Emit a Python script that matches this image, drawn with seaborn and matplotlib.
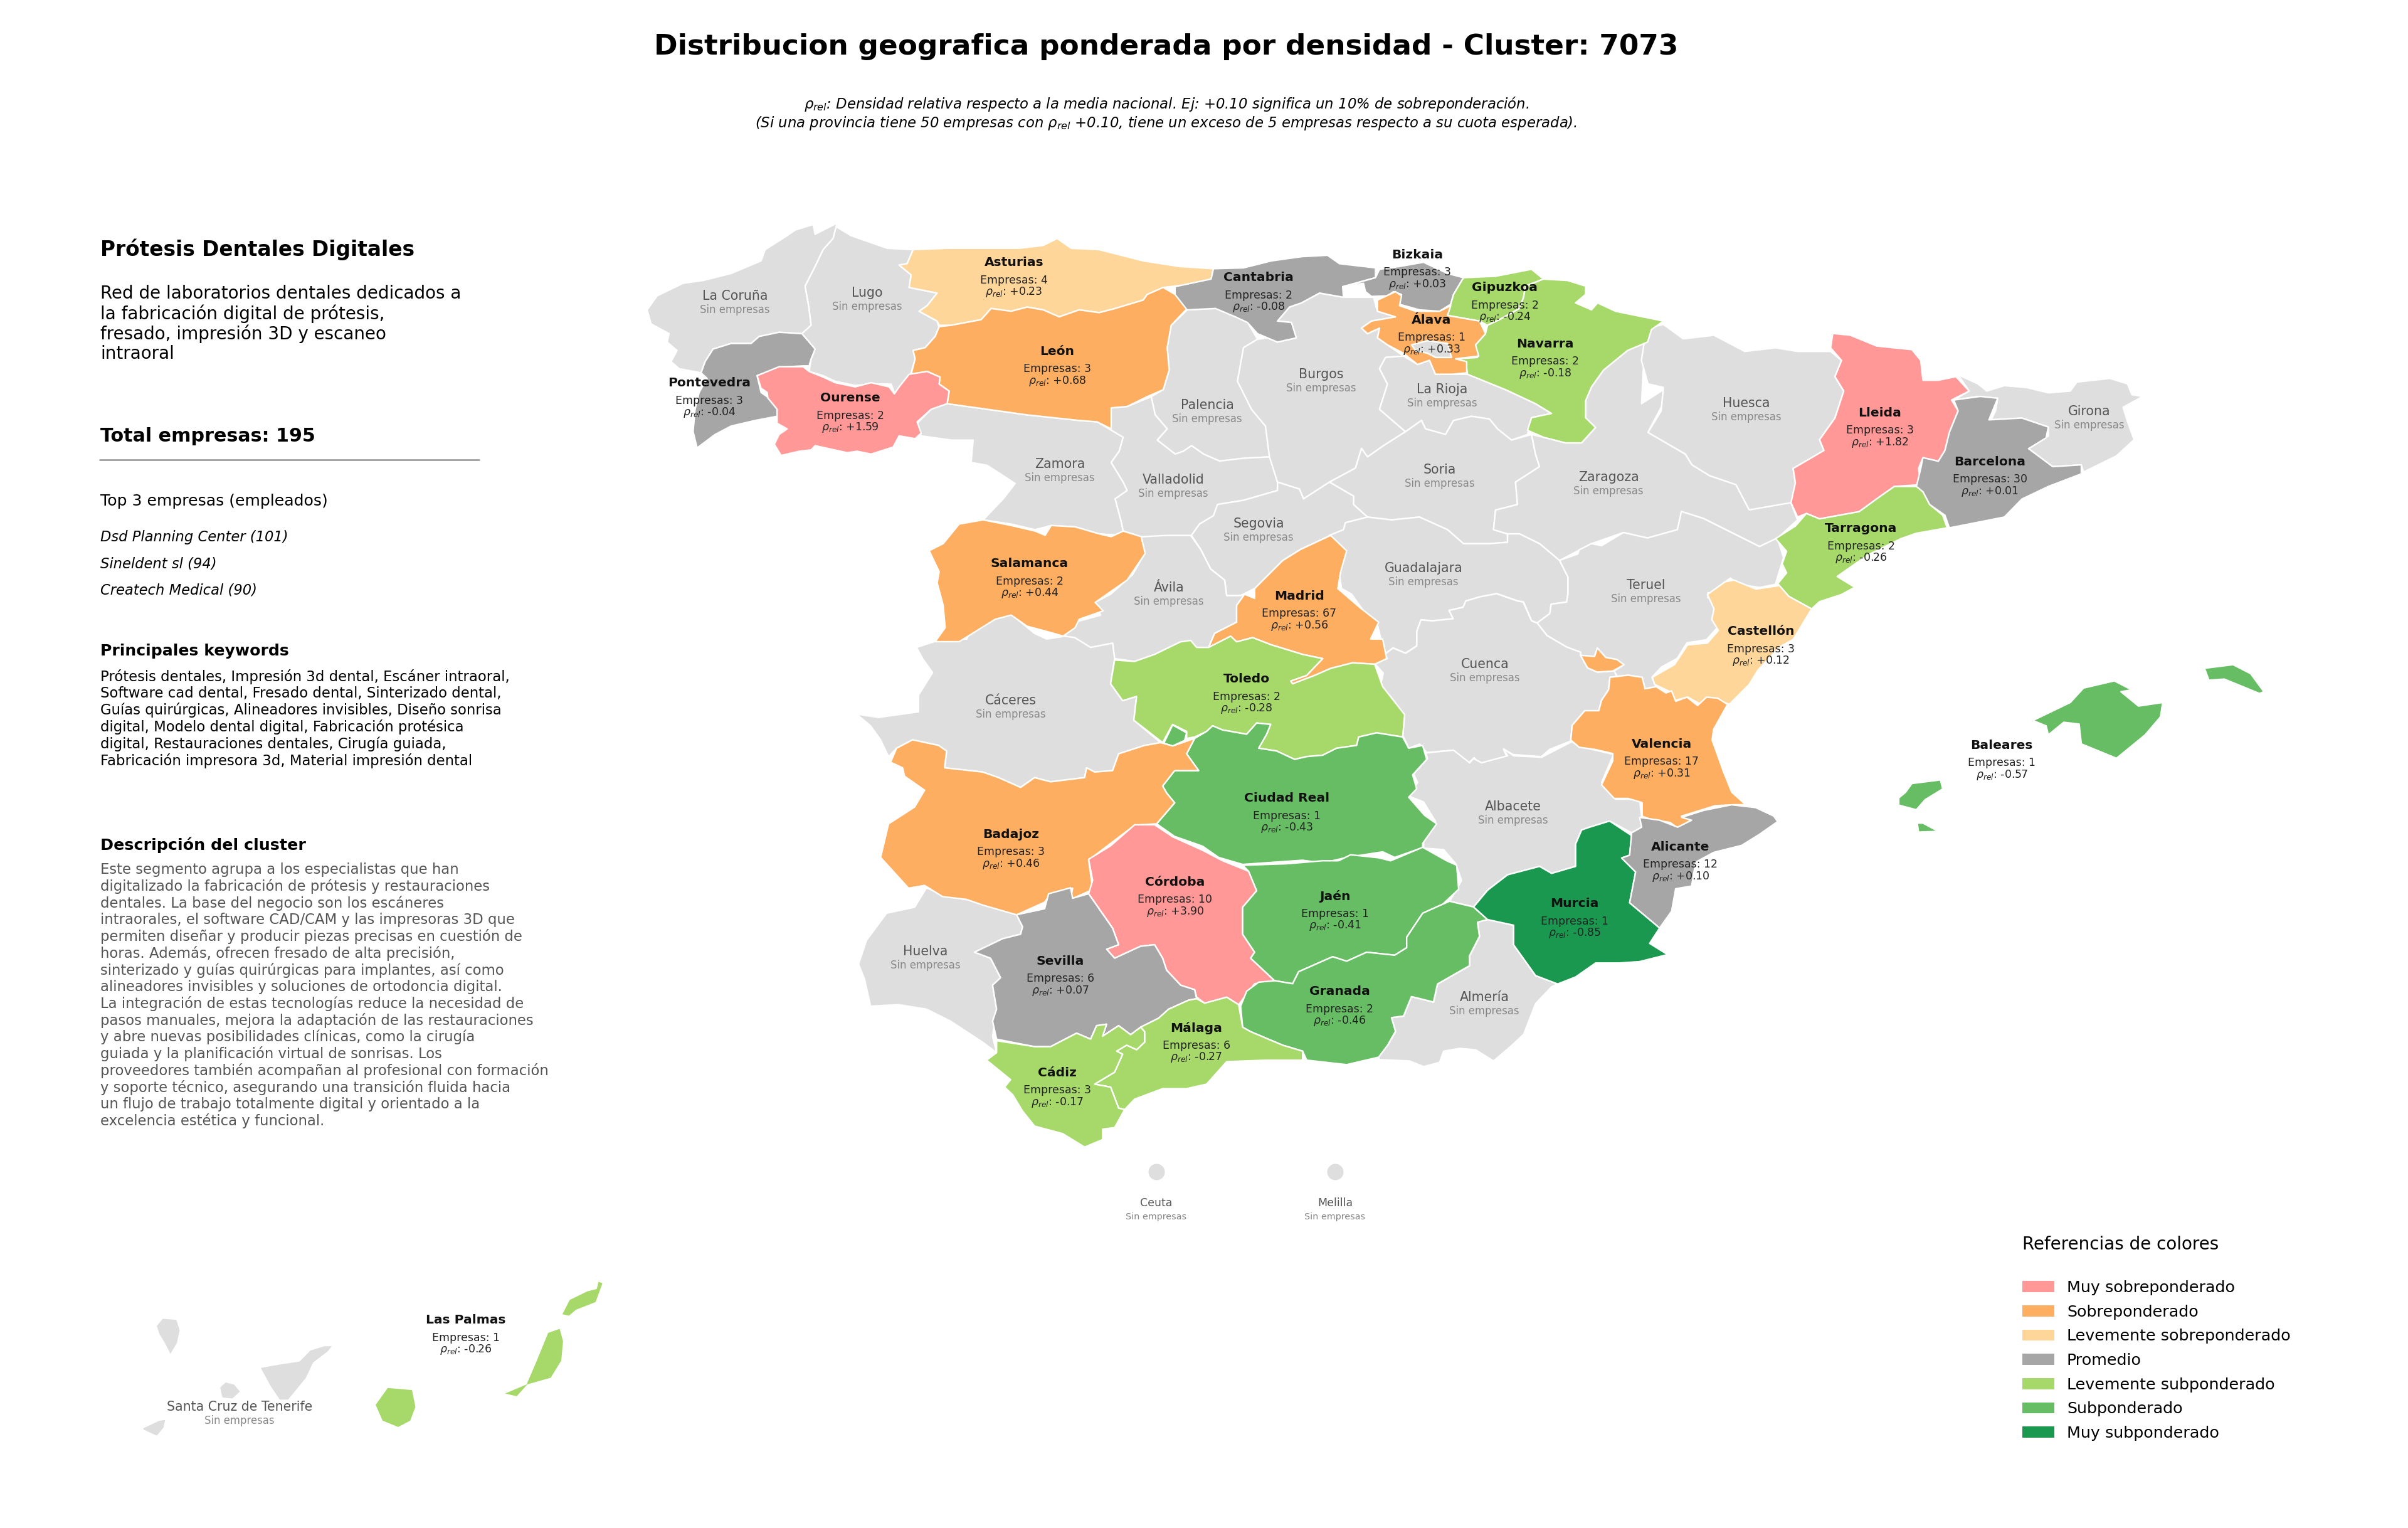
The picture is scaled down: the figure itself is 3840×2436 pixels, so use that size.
import pandas as pd
import matplotlib.pyplot as plt
from matplotlib.patches import Patch
import seaborn as sns

# Provincias con empresas: nombre, empresas, densidad relativa
provincias = ["Asturias", "León", "Pontevedra", "Ourense", "Salamanca", "Cantabria", "Bizkaia", "Gipuzkoa",
              "Álava", "Navarra", "Madrid", "Castellón", "Lleida", "Barcelona", "Tarragona", "Baleares",
              "Toledo", "Valencia", "Ciudad Real", "Badajoz", "Córdoba", "Jaén", "Sevilla", "Granada",
              "Málaga", "Cádiz", "Murcia", "Alicante", "Las Palmas"]
empresas = [4, 3, 3, 2, 2, 2, 3, 2, 1, 2, 67, 3, 3, 30, 2, 1, 2, 17, 1, 3, 10, 1, 6, 2, 6, 3, 1, 12, 1]
rho_rel = [0.23, 0.68, -0.04, 1.59, 0.44, -0.08, 0.03, -0.24, 0.33, -0.18, 0.56, 0.12, 1.82, 0.01, -0.26, -0.57,
           -0.28, 0.31, -0.43, 0.46, 3.90, -0.41, 0.07, -0.46, -0.27, -0.17, -0.85, 0.10, -0.26]

# Posicion de las etiquetas (pixeles de la figura)
etiqueta_xy = {"Asturias": (1617, 419), "León": (1686, 560), "Pontevedra": (1131, 611), "Ourense": (1356, 635),
               "Salamanca": (1642, 899), "Cantabria": (2007, 443), "Bizkaia": (2260, 406), "Gipuzkoa": (2400, 459),
               "Álava": (2283, 510), "Navarra": (2464, 548), "Madrid": (2072, 950), "Castellón": (2808, 1007),
               "Lleida": (2998, 658), "Barcelona": (3173, 736), "Tarragona": (2968, 843), "Baleares": (3192, 1188),
               "Toledo": (1988, 1083), "Valencia": (2650, 1186), "Ciudad Real": (2052, 1273), "Badajoz": (1612, 1330),
               "Córdoba": (1874, 1406), "Jaén": (2129, 1429), "Sevilla": (1691, 1532), "Granada": (2136, 1581),
               "Málaga": (1908, 1639), "Cádiz": (1686, 1710), "Murcia": (2511, 1441), "Alicante": (2680, 1350),
               "Las Palmas": (743, 2105)}
sin_empresas_xy = {"La Coruña": (1172, 472), "Lugo": (1383, 467), "Palencia": (1925, 646), "Zamora": (1690, 740),
                   "Valladolid": (1871, 765), "Ávila": (1864, 937), "Segovia": (2007, 835), "Burgos": (2107, 597),
                   "La Rioja": (2300, 621), "Soria": (2296, 749), "Zaragoza": (2565, 761), "Huesca": (2785, 643),
                   "Guadalajara": (2270, 906), "Teruel": (2625, 933), "Girona": (3332, 656), "Cáceres": (1612, 1117),
                   "Cuenca": (2368, 1059), "Albacete": (2413, 1286), "Huelva": (1476, 1517), "Almería": (2367, 1590),
                   "Santa Cruz de Tenerife": (382, 2243)}
ciudades = ["Ceuta", "Melilla"]
ciudades_x = [1844, 2129]
ciudades_y = [1868, 1868]

# Contornos digitalizados: cada tramo se anota en un marco (origen x, origen y, escala x, escala y)
marcos = {"A": (1000, 340, .638, .4464), "B": (1900, 340, .638, .4464), "C": (2600, 500, .7015, .574),
          "D": (1350, 800, .638, .4464), "E": (1350, 1150, .638, .478), "F": (2200, 1100, .638, .4464),
          "G": (150, 1942, .574, .35), "J": (2150, 850, .4464, .333)}

contornos_grises = {
    "La Coruña": [("A", [(50, 345), (75, 295), (140, 250), (190, 240), (260, 215), (335, 170), (345, 130), (400, 80), (420, 60), (465, 40), (470, 75), (525, 35), (515, 90), (490, 130), (470, 190), (445, 260), (455, 340), (460, 400), (437, 430), (380, 425), (330, 440), (310, 465), (260, 465), (215, 485), (195, 530), (185, 570), (130, 555), (110, 530), (125, 490), (100, 460), (105, 430), (60, 395)])],
    "Lugo": [("A", [(525, 35), (525, 50), (560, 80), (650, 125), (715, 130), (700, 180), (680, 185), (710, 220), (705, 265), (775, 285), (750, 330), (730, 350), (775, 385), (780, 410), (770, 440), (745, 480), (715, 490), (720, 520), (710, 570), (680, 640), (668, 640), (660, 610), (610, 610), (570, 615), (520, 600), (490, 580), (455, 565), (460, 520), (470, 485), (437, 430), (460, 400), (455, 340), (445, 260), (470, 190), (490, 130), (515, 90)])],
    "Zamora": [("A", [(800, 680), (900, 700), (1000, 720), (1130, 740), (1175, 745), (1205, 770), (1240, 800), (1230, 850), (1210, 890), (1240, 960), (1250, 990), (1220, 1020), (1235, 1100), (1240, 1135), (1285, 1155), (1180, 1145), (1120, 1120), (1060, 1115), (1020, 1130), (960, 1110), (890, 1095), (940, 1020), (970, 965), (900, 900), (860, 890), (865, 810), (810, 810), (735, 795), (725, 750), (760, 700)])],
    "Palencia": [("A", [(1400, 345), (1471, 340), (1521, 370), (1551, 390), (1576, 450), (1541, 480), (1526, 600), (1561, 700), (1596, 760), (1606, 870), (1541, 875), (1481, 885), (1441, 860), (1411, 830), (1390, 850), (1370, 860), (1325, 810), (1350, 770), (1320, 720), (1310, 655), (1340, 630), (1355, 560), (1350, 480), (1360, 400)])],
    "Valladolid": [("A", [(1210, 695), (1250, 690), (1310, 655), (1320, 720), (1350, 770), (1325, 810), (1370, 860), (1390, 850), (1411, 830), (1441, 860), (1481, 885), (1541, 875), (1606, 870), (1626, 960), (1626, 990), (1541, 1025), (1476, 1040), (1466, 1080), (1431, 1110), (1411, 1150), (1380, 1165), (1340, 1170), (1285, 1155), (1240, 1135), (1235, 1100), (1220, 1020), (1250, 990), (1240, 960), (1210, 890), (1230, 850), (1240, 800), (1205, 770)])],
    "Burgos": [("B", [(130, 480), (165, 450), (190, 445), (215, 460), (262, 445), (250, 390), (215, 385), (245, 335), (275, 320), (320, 285), (380, 300), (455, 300), (465, 350), (510, 370), (450, 385), (425, 410), (440, 430), (470, 410), (465, 445), (490, 470), (530, 510), (485, 515), (470, 555), (490, 610), (470, 700), (535, 780), (480, 830), (440, 870), (425, 840), (410, 910), (345, 960), (280, 1020), (270, 985), (215, 960), (195, 870), (185, 760), (150, 700), (115, 600)])],
    "La Rioja": [("B", [(485, 515), (530, 510), (565, 540), (595, 525), (610, 575), (650, 575), (690, 575), (785, 630), (860, 680), (900, 715), (850, 730), (840, 790), (800, 810), (765, 770), (745, 735), (700, 725), (655, 740), (635, 790), (585, 770), (575, 740), (535, 780), (470, 700), (490, 610), (470, 555)])],
    "Soria": [("B", [(535, 780), (575, 740), (585, 770), (635, 790), (655, 740), (700, 725), (745, 735), (765, 770), (800, 810), (850, 790), (860, 860), (870, 905), (810, 960), (815, 1040), (760, 1060), (755, 1130), (790, 1145), (790, 1175), (745, 1180), (680, 1180), (640, 1130), (570, 1085), (500, 1095), (440, 1085), (405, 1040), (405, 1010), (345, 960), (410, 910), (425, 840), (440, 870), (480, 830)])],
    "Zaragoza": [("B", [(850, 790), (880, 800), (935, 820), (975, 820), (1010, 765), (985, 730), (985, 670), (1000, 620), (1030, 560), (1090, 490), (1140, 460), (1130, 540), (1125, 680), (1180, 630), (1175, 690), (1141, 782), (1234, 860), (1251, 898), (1295, 937), (1361, 969), (1394, 1059), (1498, 1033), (1515, 1095), (1465, 1160), (1420, 1190), (1350, 1140), (1280, 1090), (1225, 1065), (1215, 1130), (1140, 1160), (1080, 1140), (1000, 1180), (920, 1240), (870, 1180), (820, 1145), (790, 1145), (755, 1130), (760, 1060), (815, 1040), (810, 960), (870, 905), (860, 860)])],
    "Huesca": [("C", [(40, 40), (75, 30), (120, 70), (190, 60), (260, 105), (330, 95), (380, 105), (455, 105), (480, 130), (465, 175), (485, 215), (465, 290), (430, 350), (440, 380), (370, 430), (375, 470), (395, 490), (365, 525), (270, 545), (240, 475), (180, 450), (140, 420), (125, 390), (40, 330), (70, 270), (75, 205), (40, 195), (25, 130), (30, 90)])],
    "Segovia": [("B", [(440, 1085), (405, 1040), (405, 1010), (345, 960), (280, 1020), (270, 985), (215, 960), (215, 990), (130, 1025), (65, 1040), (55, 1080), (20, 1110), (0, 1150), (23, 1200), (48, 1270), (83, 1310), (88, 1365), (123, 1365), (158, 1340), (228, 1240), (273, 1200), (348, 1150), (380, 1130), (385, 1105)])],
    "Guadalajara": [("B", [(440, 1085), (500, 1095), (570, 1085), (640, 1130), (680, 1180), (745, 1180), (790, 1175), (790, 1145), (820, 1145), (870, 1180), (920, 1240), (941, 1299), (941, 1358), (938, 1388), (899, 1396), (896, 1429), (864, 1463), (850, 1455), (830, 1388), (815, 1384), (763, 1358), (721, 1370), (686, 1384), (679, 1407), (644, 1418), (654, 1448), (602, 1455), (574, 1452), (563, 1493), (563, 1545), (535, 1571), (504, 1552), (483, 1575), (465, 1470), (440, 1440), (400, 1360), (375, 1340), (370, 1290), (385, 1210), (345, 1150), (380, 1130), (385, 1105)])],
    "Teruel": [("J", [(755, 130), (820, 100), (825, 80), (869, 50), (905, 60), (983, -3), (1069, 23), (1176, -17), (1190, -104), (1269, -70), (1369, -3), (1469, 64), (1533, 23), (1555, 117), (1526, 245), (1470, 260), (1395, 245), (1365, 215), (1345, 235), (1320, 290), (1285, 285), (1285, 310), (1320, 310), (1325, 375), (1300, 410), (1320, 450), (1280, 510), (1210, 525), (1175, 600), (1120, 640), (1085, 690), (1100, 735), (1060, 745), (1050, 690), (1000, 680), (960, 685), (950, 660), (985, 630), (960, 605), (920, 595), (890, 550), (880, 590), (830, 585), (830, 570), (780, 545), (710, 490), (675, 430), (720, 385), (725, 340), (780, 330), (785, 290), (785, 210)])],
    "Cuenca": [("J", [(675, 430), (655, 420), (625, 330), (605, 325), (530, 290), (470, 305), (420, 325), (410, 355), (360, 370), (375, 410), (300, 420), (260, 415), (245, 470), (245, 540), (205, 575), (160, 550), (130, 580), (140, 600), (95, 625), (125, 670), (115, 730), (150, 780), (200, 870), (195, 970), (210, 1010), (215, 1030), (255, 1010), (280, 1050), (370, 1040), (430, 1100), (450, 1075), (470, 1105), (570, 1080), (555, 1035), (590, 1060), (690, 1070), (720, 1035), (795, 995), (800, 920), (845, 850), (895, 850), (905, 800), (930, 750), (935, 690), (960, 685), (950, 660), (890, 665), (855, 645), (830, 585), (830, 570), (780, 545), (710, 490)])],
    "Ávila": [("D", [(735, 125), (800, 120), (860, 120), (885, 170), (910, 240), (945, 280), (950, 335), (985, 335), (995, 330), (975, 370), (975, 430), (920, 470), (905, 520), (860, 520), (835, 500), (770, 545), (720, 570), (670, 560), (665, 505), (610, 520), (570, 485), (545, 480), (570, 430), (635, 405), (620, 360), (660, 330), (715, 260), (745, 185)])],
    "Cáceres": [("D", [(175, 520), (240, 490), (300, 490), (310, 465), (370, 420), (410, 400), (470, 470), (500, 490), (545, 480), (570, 485), (610, 520), (665, 505), (670, 560), (660, 650), (690, 710), (725, 695), (718, 780), (785, 860), (745, 870), (680, 900), (665, 960), (620, 965), (600, 950), (595, 985), (510, 1000), (470, 985), (435, 1020), (380, 985), (340, 965), (245, 950), (250, 890), (230, 870), (165, 850), (125, 880), (105, 910), (85, 850), (60, 800), (25, 758), (80, 770), (180, 750), (180, 690), (215, 610), (190, 560)])],
    "Huelva": [("E", [(200, 555), (240, 580), (340, 605), (425, 645), (440, 685), (435, 710), (390, 725), (320, 770), (360, 790), (385, 855), (365, 880), (375, 960), (365, 1050), (375, 1105), (340, 1070), (260, 1000), (200, 960), (130, 945), (60, 950), (45, 860), (30, 810), (50, 730), (100, 640), (170, 620)])],
    "Albacete": [("F", [(115, 225), (185, 215), (225, 260), (235, 245), (255, 260), (320, 235), (310, 210), (335, 235), (405, 240), (480, 185), (510, 205), (585, 230), (555, 330), (590, 390), (650, 390), (655, 455), (655, 490), (630, 510), (575, 468), (525, 490), (505, 500), (490, 550), (490, 630), (430, 655), (400, 630), (320, 660), (270, 715), (235, 775), (175, 755), (205, 680), (190, 620), (160, 570), (110, 565), (110, 520), (140, 470), (110, 400), (75, 380), (95, 330), (85, 300), (120, 245)])],
    "Almería": [("F", [(250, 825), (270, 820), (335, 840), (335, 910), (390, 1020), (445, 1050), (430, 1060), (390, 1120), (360, 1230), (330, 1270), (285, 1325), (240, 1285), (200, 1280), (160, 1290), (150, 1330), (110, 1345), (75, 1325), (0, 1320), (-10, 1300), (20, 1270), (40, 1220), (30, 1170), (60, 1165), (80, 1095), (135, 1115), (145, 1050), (225, 985), (225, 950), (250, 880), (245, 830)])],
    "Girona": [("C", [(745, 170), (790, 195), (810, 215), (850, 200), (900, 205), (950, 220), (1000, 215), (1015, 190), (1090, 180), (1130, 195), (1140, 225), (1165, 230), (1120, 260), (1130, 300), (1145, 350), (1105, 395), (1030, 440), (1025, 420), (960, 425), (905, 375), (950, 340), (950, 315), (890, 290), (820, 295), (830, 270), (835, 235), (790, 230), (735, 240), (770, 215)])],
    "Santa Cruz de Tenerife": [
        ("G", [(135, 955), (180, 920), (200, 915), (195, 955), (175, 995), (135, 965)]),
        ("G", [(172, 490), (190, 455), (230, 460), (240, 510), (232, 570), (212, 625), (195, 570), (180, 530)]),
        ("G", [(348, 770), (365, 745), (390, 755), (408, 790), (385, 825), (355, 820)]),
        ("G", [(460, 680), (510, 665), (570, 650), (600, 600), (640, 580), (665, 580), (650, 610), (610, 660), (590, 730), (540, 830), (515, 830), (490, 770)])],
}

contornos = {
    "Asturias": [("A", [(715, 130), (800, 125), (880, 125), (980, 125), (1040, 115), (1075, 90), (1110, 125), (1180, 130), (1290, 170), (1380, 190), (1465, 198), (1460, 235), (1400, 255), (1370, 260), (1340, 265), (1300, 290), (1290, 310), (1220, 340), (1180, 355), (1130, 345), (1080, 370), (1040, 345), (1000, 335), (960, 350), (910, 340), (885, 380), (810, 400), (780, 400), (775, 385), (730, 350), (750, 330), (775, 285), (705, 265), (710, 220), (680, 185), (700, 180)])],
    "León": [("A", [(780, 405), (810, 400), (885, 380), (910, 340), (960, 350), (1000, 335), (1040, 345), (1080, 370), (1130, 345), (1180, 355), (1220, 340), (1290, 310), (1300, 290), (1340, 265), (1370, 290), (1400, 340), (1360, 400), (1350, 480), (1355, 560), (1340, 630), (1300, 655), (1250, 690), (1210, 695), (1210, 770), (1175, 745), (1130, 740), (1000, 720), (900, 700), (800, 680), (805, 635), (780, 610), (782, 585), (750, 565), (710, 575), (720, 520), (715, 490), (745, 480), (770, 440)])],
    "Pontevedra": [("A", [(437, 430), (470, 485), (460, 520), (455, 545), (440, 545), (380, 550), (325, 580), (335, 640), (355, 660), (380, 695), (375, 725), (320, 740), (260, 760), (220, 790), (175, 838), (165, 780), (170, 700), (180, 640), (200, 590), (185, 570), (195, 530), (215, 485), (260, 465), (310, 465), (330, 440), (380, 425)])],
    "Ourense": [("A", [(325, 580), (380, 548), (440, 548), (455, 565), (490, 585), (520, 605), (570, 620), (610, 605), (655, 620), (668, 645), (680, 620), (705, 575), (750, 565), (782, 585), (780, 610), (805, 635), (800, 680), (760, 700), (725, 745), (735, 785), (720, 805), (680, 795), (665, 835), (610, 860), (575, 850), (550, 855), (470, 830), (460, 845), (430, 850), (385, 865), (368, 825), (380, 790), (400, 770), (375, 750), (375, 700), (352, 660), (350, 640), (335, 625)])],
    "Salamanca": [("A", [(755, 1205), (790, 1180), (830, 1110), (890, 1095), (960, 1115), (1020, 1135), (1045, 1150), (1060, 1115), (1120, 1120), (1180, 1145), (1210, 1155), (1240, 1135), (1285, 1155), (1295, 1215), (1250, 1310), (1170, 1390), (1190, 1420), (1130, 1450), (1120, 1480), (1090, 1510), (1040, 1490), (1000, 1475), (960, 1435), (920, 1450), (830, 1530), (770, 1530), (795, 1480), (790, 1400), (775, 1320), (780, 1280)])],
    "Cantabria": [("B", [(55, 198), (130, 195), (200, 170), (275, 155), (340, 150), (370, 180), (460, 195), (460, 230), (378, 262), (380, 300), (320, 285), (275, 320), (245, 335), (215, 385), (250, 390), (262, 445), (215, 460), (190, 445), (165, 430), (140, 390), (110, 370), (60, 340), (-11, 345), (-41, 290), (-41, 262), (49, 235)])],
    "Bizkaia": [("B", [(460, 230), (470, 200), (520, 190), (580, 175), (640, 215), (680, 230), (655, 290), (648, 325), (620, 350), (570, 345), (520, 325), (525, 290), (505, 280), (490, 295), (450, 297), (435, 280), (430, 250), (380, 262)])],
    "Gipuzkoa": [("B", [(680, 230), (760, 225), (850, 200), (880, 235), (835, 260), (830, 300), (820, 340), (770, 380), (740, 400), (720, 385), (640, 365), (648, 325), (655, 290)])],
    "Navarra": [("B", [(880, 235), (940, 240), (985, 260), (985, 290), (960, 320), (1000, 345), (1015, 320), (1060, 350), (1180, 385), (1150, 415), (1140, 460), (1090, 490), (1030, 560), (1000, 620), (985, 670), (985, 730), (1010, 765), (975, 820), (935, 820), (880, 800), (840, 775), (850, 730), (900, 715), (860, 680), (785, 630), (690, 575), (685, 530), (660, 520), (715, 515), (710, 470), (735, 430), (740, 400), (770, 380), (820, 340), (830, 300), (835, 260)])],
    "Álava": [("B", [(465, 310), (510, 280), (525, 295), (520, 330), (560, 350), (620, 350), (648, 330), (640, 365), (720, 385), (735, 430), (710, 470), (718, 510), (660, 520), (688, 530), (688, 570), (650, 575), (610, 575), (595, 525), (565, 540), (530, 500), (490, 470), (465, 445), (470, 410), (440, 430), (425, 410), (450, 385), (510, 370), (465, 350)])],
    "Madrid": [("D", [(1210, 120), (1250, 175), (1235, 250), (1228, 310), (1285, 380), (1330, 430), (1310, 490), (1340, 490), (1350, 560), (1320, 580), (1265, 575), (1210, 595), (1170, 620), (1115, 650), (1110, 640), (1150, 620), (1190, 560), (1140, 545), (1060, 510), (1015, 485), (975, 500), (960, 480), (905, 520), (920, 470), (975, 430), (975, 370), (995, 330), (1020, 345), (1020, 310), (1090, 210), (1135, 170)])],
    "Castellón": [("C", [(175, 780), (215, 745), (235, 740), (285, 765), (340, 755), (360, 785), (412, 820), (370, 905), (340, 925), (290, 990), (270, 1030), (225, 1085), (190, 1070), (160, 1085), (130, 1065), (100, 1075), (90, 1050), (55, 1030), (50, 1010), (100, 975), (130, 920), (175, 915), (200, 880), (185, 850), (190, 820)])],
    "Lleida": [("C", [(460, 55), (500, 60), (560, 90), (640, 100), (660, 130), (665, 185), (700, 185), (740, 175), (770, 215), (730, 240), (745, 270), (725, 330), (715, 380), (700, 410), (665, 400), (655, 430), (660, 475), (600, 480), (565, 510), (520, 550), (430, 570), (400, 555), (380, 565), (365, 525), (375, 470), (370, 430), (440, 380), (430, 350), (465, 290), (485, 215), (465, 175), (480, 130), (455, 95)])],
    "Barcelona": [("C", [(735, 240), (795, 230), (835, 235), (825, 265), (815, 295), (890, 290), (950, 315), (945, 345), (905, 375), (960, 425), (1025, 420), (1025, 445), (950, 480), (890, 515), (850, 565), (725, 595), (715, 560), (680, 530), (665, 495), (650, 480), (660, 430), (665, 400), (700, 410), (715, 380), (725, 330), (745, 270)])],
    "Tarragona": [("C", [(330, 625), (375, 590), (400, 555), (430, 570), (520, 550), (565, 510), (600, 480), (650, 480), (665, 495), (680, 530), (710, 560), (720, 595), (650, 610), (615, 625), (540, 670), (470, 730), (510, 760), (480, 780), (430, 800), (412, 820), (360, 785), (335, 750), (355, 720), (345, 695), (355, 660)])],
    "Baleares": [
        ("C", [(915, 1130), (1000, 1080), (1030, 1040), (1100, 1020), (1140, 1045), (1115, 1050), (1155, 1090), (1210, 1080), (1205, 1120), (1170, 1170), (1105, 1235), (1025, 1195), (1020, 1140), (985, 1135), (950, 1170), (945, 1145)]),
        ("C", [(1305, 985), (1370, 975), (1410, 1000), (1440, 1050), (1430, 1055), (1350, 1015), (1315, 1018)]),
        ("C", [(610, 1345), (625, 1330), (640, 1305), (705, 1295), (710, 1320), (670, 1350), (650, 1378), (610, 1365)]),
        ("C", [(652, 1415), (665, 1415), (700, 1438), (655, 1440)])],
    "Toledo": [("D", [(670, 565), (720, 570), (770, 545), (835, 500), (860, 495), (875, 520), (905, 520), (960, 480), (975, 500), (1015, 485), (1060, 510), (1140, 545), (1190, 560), (1150, 620), (1110, 640), (1115, 650), (1170, 620), (1210, 595), (1265, 575), (1320, 580), (1340, 660), (1395, 760), (1390, 840), (1325, 825), (1280, 840), (1275, 870), (1225, 880), (1190, 905), (1150, 910), (1120, 920), (1075, 890), (1030, 880), (1050, 830), (1060, 795), (1025, 790), (1000, 830), (940, 815), (915, 800), (900, 820), (870, 840), (850, 845), (850, 820), (815, 795), (790, 860), (718, 780), (725, 695), (690, 710), (660, 650)])],
    "Valencia": [
        ("J", [(935, 690), (1000, 680), (1050, 690), (1060, 745), (1100, 735), (1135, 765), (1155, 755), (1170, 805), (1210, 785), (1248, 825), (1280, 785), (1320, 790), (1355, 820), (1305, 940), (1300, 990), (1340, 1140), (1370, 1240), (1420, 1300), (1380, 1300), (1310, 1305), (1190, 1355), (1225, 1375), (1175, 1410), (1150, 1385), (1080, 1370), (1050, 1355), (1050, 1290), (1000, 1270), (950, 1270), (905, 1205), (945, 1090), (945, 1055), (880, 1035), (825, 1025), (795, 990), (800, 920), (845, 850), (895, 850), (905, 800), (930, 750)]),
        ("J", [(830, 585), (880, 590), (890, 550), (920, 595), (960, 605), (985, 630), (945, 660), (890, 665), (855, 645)])],
    "Ciudad Real": [
        ("D", [(870, 845), (900, 820), (915, 800), (940, 815), (1000, 830), (1025, 790), (1060, 795), (1050, 830), (1030, 880), (1075, 890), (1120, 920), (1150, 910), (1190, 905), (1225, 880), (1275, 870), (1280, 840), (1325, 825), (1390, 840), (1405, 880), (1440, 870), (1450, 920), (1415, 975), (1425, 1025), (1405, 1055), (1445, 1120), (1475, 1150), (1440, 1220), (1440, 1235), (1370, 1270), (1340, 1250), (1250, 1270), (1190, 1290), (1140, 1280), (990, 1295), (930, 1270), (890, 1230), (820, 1195), (775, 1150), (820, 1075), (800, 1040), (790, 1015), (820, 960), (880, 960), (850, 900)]),
        ("D", [(793, 862), (815, 797), (850, 825), (845, 852), (815, 872)])],
    "Badajoz": [("D", [(110, 930), (125, 880), (165, 850), (230, 870), (250, 890), (245, 950), (340, 965), (380, 985), (435, 1020), (470, 985), (510, 1000), (595, 985), (600, 950), (620, 965), (665, 960), (680, 900), (745, 870), (785, 860), (815, 872), (870, 845), (850, 900), (880, 960), (820, 960), (790, 1015), (800, 1040), (820, 1075), (775, 1150), (720, 1155), (660, 1220), (605, 1280), (610, 1330), (615, 1385), (560, 1420), (565, 1380), (510, 1400), (495, 1430), (425, 1475), (340, 1440), (300, 1420), (240, 1410), (195, 1370), (155, 1380), (85, 1270), (105, 1150), (170, 1090), (195, 1030), (145, 980), (140, 950)])],
    "Córdoba": [("E", [(720, 345), (770, 345), (815, 385), (890, 430), (940, 465), (1005, 500), (1025, 565), (990, 620), (990, 710), (1020, 770), (1010, 790), (1070, 865), (1020, 875), (980, 945), (950, 920), (895, 940), (875, 920), (870, 895), (835, 880), (800, 830), (790, 790), (770, 745), (735, 750), (670, 790), (650, 760), (680, 745), (665, 690), (605, 575), (615, 530), (605, 460), (660, 415)])],
    "Jaén": [("E", [(990, 480), (1100, 475), (1190, 465), (1230, 465), (1260, 445), (1330, 455), (1360, 465), (1440, 420), (1500, 465), (1525, 480), (1530, 560), (1490, 610), (1440, 640), (1400, 720), (1400, 755), (1370, 780), (1300, 770), (1250, 800), (1215, 785), (1130, 835), (1115, 875), (1070, 865), (1010, 790), (1020, 770), (990, 710), (990, 620), (1025, 565), (1005, 500)])],
    "Sevilla": [("E", [(425, 645), (495, 625), (505, 575), (560, 555), (565, 590), (605, 575), (665, 690), (680, 745), (650, 760), (670, 790), (735, 750), (770, 745), (790, 790), (800, 830), (835, 880), (870, 895), (875, 925), (855, 930), (805, 960), (780, 990), (735, 1020), (710, 1045), (680, 1015), (640, 1050), (650, 1010), (625, 1015), (610, 1060), (575, 1040), (510, 1085), (470, 1085), (375, 1060), (365, 1000), (375, 960), (365, 880), (385, 855), (360, 790), (320, 770), (390, 725), (435, 710), (440, 685)])],
    "Granada": [("E", [(1070, 865), (1115, 875), (1130, 835), (1215, 785), (1250, 800), (1300, 770), (1370, 780), (1400, 755), (1400, 720), (1440, 640), (1490, 610), (1507, 600), (1567, 619), (1602, 661), (1577, 670), (1582, 717), (1557, 782), (1557, 815), (1477, 876), (1467, 936), (1412, 918), (1392, 983), (1362, 988), (1372, 1034), (1352, 1081), (1330, 1120), (1250, 1145), (1150, 1130), (1140, 1100), (1090, 1080), (1010, 1035), (990, 1020), (985, 950), (1000, 900), (1030, 870)])],
    "Málaga": [("E", [(855, 930), (875, 925), (895, 940), (950, 920), (980, 945), (990, 1020), (1010, 1035), (1090, 1080), (1140, 1100), (1140, 1130), (1050, 1130), (950, 1135), (900, 1210), (850, 1225), (790, 1225), (720, 1260), (695, 1295), (680, 1290), (660, 1220), (620, 1210), (670, 1170), (690, 1110), (675, 1100), (700, 1080), (725, 1095), (745, 1070), (745, 1035), (735, 1020), (780, 990), (805, 960)])],
    "Cádiz": [("E", [(375, 1065), (470, 1085), (510, 1085), (575, 1040), (610, 1060), (625, 1015), (650, 1010), (640, 1050), (680, 1015), (710, 1045), (735, 1020), (745, 1035), (745, 1070), (725, 1095), (700, 1080), (675, 1100), (690, 1110), (670, 1170), (620, 1210), (660, 1220), (680, 1290), (695, 1295), (670, 1355), (640, 1360), (640, 1395), (595, 1420), (540, 1375), (470, 1350), (440, 1300), (415, 1245), (395, 1220), (410, 1195), (350, 1130), (375, 1105)])],
    "Murcia": [("F", [(235, 775), (270, 715), (320, 660), (400, 630), (430, 655), (490, 630), (490, 550), (505, 500), (525, 490), (575, 468), (630, 520), (625, 590), (605, 600), (640, 650), (625, 760), (700, 850), (675, 905), (720, 945), (650, 970), (600, 975), (540, 975), (490, 1025), (445, 1050), (390, 1020), (335, 910), (335, 840), (270, 820)])],
    "Alicante": [("F", [(650, 455), (700, 465), (745, 490), (780, 465), (755, 455), (810, 430), (880, 410), (940, 420), (985, 450), (995, 470), (950, 515), (905, 555), (835, 580), (790, 615), (780, 700), (740, 710), (730, 790), (700, 850), (625, 760), (640, 650), (605, 600), (625, 590), (630, 510), (655, 490)])],
    "Las Palmas": [
        ("G", [(780, 850), (815, 770), (885, 780), (895, 860), (880, 925), (845, 955), (800, 925)]),
        ("G", [(1135, 800), (1200, 755), (1225, 660), (1260, 520), (1295, 500), (1305, 560), (1300, 650), (1270, 730), (1205, 760), (1175, 815)]),
        ("G", [(1298, 440), (1320, 370), (1370, 330), (1395, 320), (1400, 285), (1415, 295), (1405, 340), (1395, 385), (1340, 420), (1320, 448)]),
        ("G", [(1390, 275), (1395, 258), (1400, 265)])],
}
# Condado de Trevino (Burgos) dentro de Alava
trevino = ("B", [(550, 470), (590, 455), (640, 465), (650, 515), (610, 515), (590, 500), (560, 490)])

# Categorias y colores
categorias = ["Muy sobreponderado", "Sobreponderado", "Levemente sobreponderado", "Promedio",
              "Levemente subponderado", "Subponderado", "Muy subponderado"]
colores = sns.color_palette(["#FF9896", "#FDAE61", "#FED69A", "#A6A6A6", "#A6D96A", "#66BD63", "#1A9850"])
color_sin_datos = "#DEDEDE"

# Textos del panel izquierdo
titulo_cluster = "Prótesis Dentales Digitales"
resumen = "Red de laboratorios dentales dedicados a\nla fabricación digital de prótesis,\nfresado, impresión 3D y escaneo\nintraoral"
top_empresas = ["Dsd Planning Center (101)", "Sineldent sl (94)", "Createch Medical (90)"]
keywords = ("Prótesis dentales, Impresión 3d dental, Escáner intraoral,\n"
            "Software cad dental, Fresado dental, Sinterizado dental,\n"
            "Guías quirúrgicas, Alineadores invisibles, Diseño sonrisa\n"
            "digital, Modelo dental digital, Fabricación protésica\n"
            "digital, Restauraciones dentales, Cirugía guiada,\n"
            "Fabricación impresora 3d, Material impresión dental")
descripcion = ("Este segmento agrupa a los especialistas que han\n"
               "digitalizado la fabricación de prótesis y restauraciones\n"
               "dentales. La base del negocio son los escáneres\n"
               "intraorales, el software CAD/CAM y las impresoras 3D que\n"
               "permiten diseñar y producir piezas precisas en cuestión de\n"
               "horas. Además, ofrecen fresado de alta precisión,\n"
               "sinterizado y guías quirúrgicas para implantes, así como\n"
               "alineadores invisibles y soluciones de ortodoncia digital.\n"
               "La integración de estas tecnologías reduce la necesidad de\n"
               "pasos manuales, mejora la adaptación de las restauraciones\n"
               "y abre nuevas posibilidades clínicas, como la cirugía\n"
               "guiada y la planificación virtual de sonrisas. Los\n"
               "proveedores también acompañan al profesional con formación\n"
               "y soporte técnico, asegurando una transición fluida hacia\n"
               "un flujo de trabajo totalmente digital y orientado a la\n"
               "excelencia estética y funcional.")

df = pd.DataFrame({"provincia": provincias, "empresas": empresas, "rho": rho_rel})
df["categoria"] = pd.cut(df["rho"], [-99, -0.6, -0.3, -0.1, 0.1, 0.3, 1.0, 99],
                         labels=categorias[::-1]).astype(str)
paleta = dict(zip(categorias, colores))

sns.set_theme(style="white", font="DejaVu Sans")
fig = plt.figure(figsize=(20, 12.6875), dpi=192)
ax = fig.add_axes([0, 0, 1, 1])
ax.set_xlim(0, 3840)
ax.set_ylim(2436, 0)
ax.axis("off")


def pintar(tramos, color):
    for marco, anillo in tramos:
        x0, y0, sx, sy = marcos[marco]
        ax.fill([x0 + sx * p[0] for p in anillo], [y0 + sy * p[1] for p in anillo],
                facecolor=color, edgecolor="white", linewidth=0.9, joinstyle="round")


# Primero las provincias sin empresas, luego las coloreadas
for nombre, tramos in contornos_grises.items():
    pintar(tramos, color_sin_datos)
for nombre, tramos in contornos.items():
    pintar(tramos, paleta[df.loc[df["provincia"] == nombre, "categoria"].iloc[0]])
pintar([trevino], color_sin_datos)

# Ceuta y Melilla
sns.scatterplot(x=ciudades_x, y=ciudades_y, s=95, color=color_sin_datos, linewidth=0, ax=ax, legend=False)
for nombre, x, y in zip(ciudades, ciudades_x, ciudades_y):
    ax.text(x, y + 50, nombre, fontsize=6.5, color="#555555", ha="center", va="center", zorder=5)
    ax.text(x, y + 72, "Sin empresas", fontsize=5.4, color="#888888", ha="center", va="center", zorder=5)

# Etiquetas
for fila in df.itertuples():
    x, y = etiqueta_xy[fila.provincia]
    ax.text(x, y, fila.provincia, fontsize=7.6, fontweight="bold", color="#111111", ha="center", va="center", zorder=5)
    ax.text(x, y + 28, f"Empresas: {fila.empresas}", fontsize=6.5, color="#222222", ha="center", va="center", zorder=5)
    ax.text(x, y + 47, rf"$\rho_{{rel}}$: {fila.rho:+.2f}", fontsize=6.5, color="#222222", ha="center", va="center", zorder=5)
for nombre, (x, y) in sin_empresas_xy.items():
    ax.text(x, y, nombre, fontsize=7.7, color="#555555", ha="center", va="center", zorder=5)
    ax.text(x, y + 22, "Sin empresas", fontsize=6.2, color="#888888", ha="center", va="center", zorder=5)

# Titulos
ax.text(1860, 75, "Distribucion geografica ponderada por densidad - Cluster: 7073", fontsize=17,
        fontweight="bold", color="black", ha="center", va="center")
ax.text(1860, 181, r"$\rho_{rel}$: Densidad relativa respecto a la media nacional. Ej: +0.10 significa un 10% de sobreponderación."
        "\n" r"(Si una provincia tiene 50 empresas con $\rho_{rel}$ +0.10, tiene un exceso de 5 empresas respecto a su cuota esperada).",
        fontsize=8.55, style="italic", color="black", ha="center", va="center")

# Panel izquierdo
ax.text(160, 398, titulo_cluster, fontsize=12.3, fontweight="bold", color="black", va="center")
ax.text(160, 516, resumen, fontsize=10.4, color="black", va="center", linespacing=1.13)
ax.text(160, 695, "Total empresas: 195", fontsize=11.3, fontweight="bold", color="black", va="center")
ax.plot([159, 764], [733, 733], color="#999999", linewidth=1)
ax.text(160, 799, "Top 3 empresas (empleados)", fontsize=9.45, color="black", va="center")
for y, nombre in zip([856, 899, 941], top_empresas):
    ax.text(160, y, nombre, fontsize=8.5, style="italic", color="black", va="center")
ax.text(160, 1038, "Principales keywords", fontsize=9.45, fontweight="bold", color="black", va="center")
ax.text(160, 1146, keywords, fontsize=8.55, color="black", va="center", linespacing=1.16)
ax.text(160, 1347, "Descripción del cluster", fontsize=9.5, fontweight="bold", color="black", va="center")
ax.text(160, 1587, descripcion, fontsize=8.55, color="#555555", va="center", linespacing=1.16)

# Leyenda
ax.text(3225, 1984, "Referencias de colores", fontsize=10.4, color="black", va="center")
manejadores = [Patch(facecolor=paleta[c], edgecolor="none", label=c) for c in categorias]
ax.legend(handles=manejadores, loc="upper left", bbox_to_anchor=(3225 / 3840, 1 - 2041 / 2436),
          frameon=False, fontsize=9.5, borderaxespad=0, borderpad=0, labelcolor="black", labelspacing=0.58)

fig.savefig("out.png", dpi=192)
